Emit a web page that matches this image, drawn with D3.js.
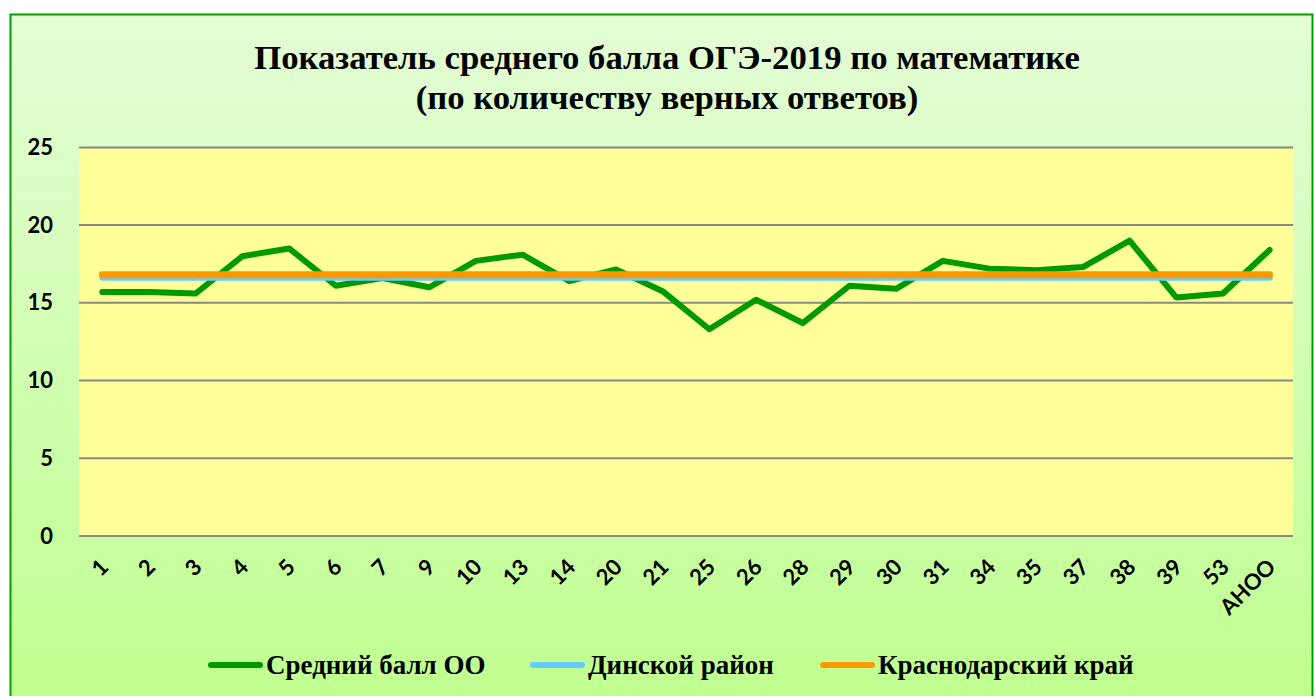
<!DOCTYPE html>
<html>
<head>
<meta charset="utf-8">
<script src="https://cdn.jsdelivr.net/npm/d3@7"></script>
<style>
    body { margin: 0; background: #fff; }
</style>
</head>
<body>
<div id="chart"></div>
<script>
// Schools (x-axis categories)
const schools = ["1", "2", "3", "4", "5", "6", "7", "9", "10", "13", "14", "20", "21", "25",
    "26", "28", "29", "30", "31", "34", "35", "37", "38", "39", "53", "АНОО"];

// Average score per school
const schoolScores = [15.7, 15.7, 15.6, 18.0, 18.5, 16.1, 16.6, 16.0, 17.7, 18.1, 16.4, 17.15, 15.75, 13.3,
    15.2, 13.7, 16.1, 15.9, 17.7, 17.2, 17.1, 17.3, 19.0, 15.35, 15.6, 18.4];

// District and region averages (same value for every school)
const districtAvg = 16.62;
const regionAvg = 16.8;

const yTicks = [0, 5, 10, 15, 20, 25];

const seriesNames = ["Средний балл ОО", "Динской район", "Краснодарский край"];
const seriesColors = ["#009900", "#66CCFF", "#FF9900"];

const width = 1314, height = 696;
const plot = { left: 79, right: 1293, top: 147.4, bottom: 536 };

const svg = d3.select("#chart").append("svg")
    .attr("width", width)
    .attr("height", height);

// Background gradient of the chart area
const defs = svg.append("defs");
const grad = defs.append("linearGradient")
    .attr("id", "bg")
    .attr("x1", 0).attr("y1", 0).attr("x2", 0).attr("y2", 1);
grad.append("stop").attr("offset", "0%").attr("stop-color", "#E4FDD6");
grad.append("stop").attr("offset", "100%").attr("stop-color", "#BEFF8E");

svg.append("rect")
    .attr("x", 10.5).attr("y", 14.5)
    .attr("width", 1302).attr("height", 700)
    .style("fill", "url(#bg)")
    .style("stroke", "#00A000")
    .style("stroke-width", 2);

// Title
const title = svg.append("text")
    .attr("text-anchor", "middle")
    .style("font-family", "Liberation Serif")
    .style("font-weight", "bold")
    .style("font-size", "34.7px")
    .style("fill", "#000");
title.append("tspan").attr("x", 667).attr("y", 69).text("Показатель среднего балла ОГЭ-2019 по математике");
title.append("tspan").attr("x", 667).attr("y", 109).text("(по количеству верных ответов)");

// Scales
const x = d3.scaleBand().domain(schools).range([plot.left, plot.right]);
const y = d3.scaleLinear().domain([0, 25]).range([plot.bottom, plot.top]);

// Plot area
svg.append("rect")
    .attr("x", plot.left).attr("y", plot.top)
    .attr("width", plot.right - plot.left).attr("height", plot.bottom - plot.top)
    .style("fill", "#FFFF99");

// Gridlines
svg.selectAll(".grid")
    .data(yTicks)
    .enter().append("line")
    .attr("class", "grid")
    .attr("x1", plot.left).attr("x2", plot.right)
    .attr("y1", d => y(d)).attr("y2", d => y(d))
    .style("stroke", "#888")
    .style("stroke-width", 2);

// Y axis labels
const yAxis = d3.axisLeft(y).tickValues(yTicks).tickSize(0).tickPadding(26);
const gy = svg.append("g")
    .attr("transform", "translate(" + plot.left + ",0)")
    .call(yAxis);
gy.select(".domain").remove();
gy.selectAll("text")
    .style("font-family", "Lato")
    .style("font-weight", "bold")
    .style("font-size", "22px")
    .style("fill", "#000");

// X axis labels, rotated
svg.selectAll(".xlabel")
    .data(schools)
    .enter().append("text")
    .attr("class", "xlabel")
    .attr("transform", d => "translate(" + (x(d) + x.bandwidth() / 2 + 2) + ",563) rotate(-45)")
    .attr("dy", "0.35em")
    .attr("text-anchor", "end")
    .style("font-family", "Lato")
    .style("font-weight", "bold")
    .style("font-size", "22px")
    .style("fill", "#000")
    .text(d => d);

const cx = d => x(d) + x.bandwidth() / 2;

const line = d3.line()
    .x(d => cx(d.school))
    .y(d => y(d.value));

const schoolData = schools.map((s, i) => ({ school: s, value: schoolScores[i] }));
const districtData = schools.map(s => ({ school: s, value: districtAvg }));
const regionData = schools.map(s => ({ school: s, value: regionAvg }));

svg.append("path")
    .datum(schoolData)
    .attr("d", line)
    .style("fill", "none")
    .style("stroke", seriesColors[0])
    .style("stroke-width", 6)
    .style("stroke-linecap", "round")
    .style("stroke-linejoin", "round");

svg.append("path")
    .datum(districtData)
    .attr("d", line)
    .style("fill", "none")
    .style("stroke", seriesColors[1])
    .style("stroke-width", 6)
    .style("stroke-linecap", "round");

svg.append("path")
    .datum(regionData)
    .attr("d", line)
    .style("fill", "none")
    .style("stroke", seriesColors[2])
    .style("stroke-width", 7)
    .style("stroke-linecap", "round");

// Legend
const legendX = [208, 530, 820];
const legend = svg.selectAll(".legend")
    .data(seriesNames)
    .enter().append("g")
    .attr("class", "legend")
    .attr("transform", (d, i) => "translate(" + legendX[i] + ",665)");

legend.append("line")
    .attr("x1", 3).attr("x2", 52)
    .attr("y1", 0).attr("y2", 0)
    .style("stroke", (d, i) => seriesColors[i])
    .style("stroke-width", 6)
    .style("stroke-linecap", "round");

legend.append("text")
    .attr("x", 58)
    .attr("y", 9)
    .style("font-family", "Liberation Serif")
    .style("font-weight", "bold")
    .style("font-size", "27px")
    .style("fill", "#000")
    .text(d => d);
</script>
</body>
</html>
